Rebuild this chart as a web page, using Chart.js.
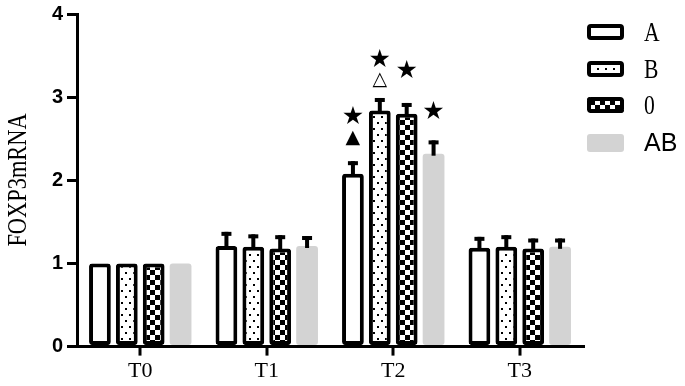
<!DOCTYPE html>
<html><head><meta charset="utf-8">
<script src="https://cdn.jsdelivr.net/npm/chart.js@4/dist/chart.umd.min.js"></script>
<style>html,body{margin:0;padding:0;background:#fff}#wrap{width:685px;height:386px}</style>
</head><body><div id="wrap"><canvas id="c" width="685" height="386"></canvas></div>
<script>
const categories = ['T0', 'T1', 'T2', 'T3'];
const seriesNames = ['A', 'B', '0', 'AB'];
const valuesA  = [1.00, 1.21, 2.08, 1.19];
const valuesB  = [1.00, 1.20, 2.84, 1.20];
const valuesO  = [1.00, 1.18, 2.80, 1.18];
const valuesAB = [1.00, 1.21, 2.32, 1.20];
const errA  = [0, 0.17, 0.15, 0.13];
const errB  = [0, 0.15, 0.15, 0.14];
const errO  = [0, 0.16, 0.13, 0.12];
const errAB = [0, 0.12, 0.16, 0.10];
const yTicks = [0, 1, 2, 3, 4];
// significance marks: [series index, category index, symbol, y value]
const marks = [
  [0, 2, '★', 2.75], [0, 2, '▲', 2.51],
  [1, 2, '★', 3.44], [1, 2, '△', 3.21],
  [2, 2, '★', 3.31],
  [3, 2, '★', 2.81]
];

function dotPattern(){
  const c = document.createElement('canvas'); c.width = 8; c.height = 12;
  const g = c.getContext('2d'); g.fillStyle = '#fff'; g.fillRect(0,0,8,12);
  g.fillStyle = '#000'; g.fillRect(1,2,2,2); g.fillRect(5,8,2,2);
  return g.createPattern(c, 'repeat');
}
function checkPattern(){
  const c = document.createElement('canvas'); c.width = 10; c.height = 10;
  const g = c.getContext('2d'); g.fillStyle = '#fff'; g.fillRect(0,0,10,10);
  g.fillStyle = '#000'; g.fillRect(0,0,5,5); g.fillRect(5,5,5,5);
  return g.createPattern(c, 'repeat');
}
const fills = ['#ffffff', dotPattern(), checkPattern(), '#d3d3d3'];
const allVals = [valuesA, valuesB, valuesO, valuesAB];
const allErr = [errA, errB, errO, errAB];

const datasets = allVals.map((v, i) => ({
  label: seriesNames[i], data: v,
  backgroundColor: fills[i],
  borderColor: '#000',
  borderWidth: i === 3 ? 0 : 4,
  borderSkipped: false,
  borderRadius: 3,
  categoryPercentage: 0.85,
  barPercentage: 0.81
}));

const extras = {
  id: 'extras',
  afterDraw(chart){
    const ctx = chart.ctx, xs = chart.scales.x;
    ctx.save();
    ctx.fillStyle = '#000';
    categories.forEach((c, i) => {
      const px = Math.round(xs.getPixelForTick(i));
      ctx.fillRect(px - 1.5, xs.top, 3, 9);
    });
    ctx.restore();
  },
  afterDatasetsDraw(chart){
    const ctx = chart.ctx, ys = chart.scales.y;
    ctx.save();
    ctx.fillStyle = '#000';
    chart.data.datasets.forEach((ds, di) => {
      const meta = chart.getDatasetMeta(di);
      const errs = allErr[di];
      meta.data.forEach((el, k) => {
        const e = errs[k]; if (!e) return;
        const top = ys.getPixelForValue(ds.data[k] + e);
        ctx.fillRect(el.x - 2, top, 4, el.y - top + 2);
        ctx.fillRect(el.x - 5, top, 10, 4);
      });
    });
    ctx.textAlign = 'center'; ctx.textBaseline = 'middle';
    marks.forEach(m => {
      const el = chart.getDatasetMeta(m[0]).data[m[1]];
      const y = ys.getPixelForValue(m[3]);
      ctx.font = (m[2] === '★' ? '25px' : '19px') + ' "DejaVu Sans"';
      ctx.fillText(m[2], el.x, y);
    });
    // y title (condensed serif)
    ctx.save();
    ctx.translate(19, 180); ctx.rotate(-Math.PI/2); ctx.scale(0.8, 1);
    ctx.font = '28px "Liberation Serif"'; ctx.textAlign = 'center'; ctx.textBaseline = 'middle';
    ctx.fillText('FOXP3mRNA', 0, 0);
    ctx.restore();
    // legend
    const lx = 587, lw = 37, lh = 16, ys0 = [24, 61, 97, 134];
    chart.data.datasets.forEach((ds, i) => {
      const y = ys0[i];
      ctx.beginPath();
      ctx.roundRect(lx, y, lw, i === 3 ? 18 : lh, 3);
      ctx.fillStyle = ds.backgroundColor; ctx.fill();
      if (ds.borderWidth) {
        ctx.beginPath(); ctx.roundRect(lx + 2, y + 2, lw - 4, lh - 4, 2);
        ctx.lineWidth = 4; ctx.strokeStyle = '#000'; ctx.stroke();
      }
      ctx.fillStyle = '#000'; ctx.textAlign = 'left'; ctx.textBaseline = 'middle';
      if (i === 3) {
        ctx.font = '25px "Liberation Sans"'; ctx.fillText(ds.label, 644, y + 10);
      } else {
        ctx.save(); ctx.translate(644, y + 10); ctx.scale(0.8, 1);
        ctx.font = '27px "Liberation Serif"'; ctx.fillText(ds.label, 0, 0);
        ctx.restore();
      }
    });
    ctx.restore();
  }
};

new Chart(document.getElementById('c'), {
  type: 'bar',
  data: { labels: categories, datasets },
  options: {
    responsive: false, animation: false, devicePixelRatio: 1,
    layout: { padding: { top: 14, right: 102, left: 0, bottom: 0 } },
    plugins: { legend: { display: false }, tooltip: { enabled: false } },
    scales: {
      x: {
        grid: { drawOnChartArea: false, offset: false, color: 'rgba(0,0,0,0)', lineWidth: 3, tickLength: 9 },
        border: { color: '#000', width: 3 },
        ticks: { color: '#000', font: { family: 'Liberation Serif', size: 22, lineHeight: 1.2 }, padding: 2 }
      },
      y: {
        min: 0, max: 4,
        afterBuildTicks(s){ s.ticks = yTicks.map(v => ({ value: v })); },
        grid: { drawOnChartArea: false, color: '#000', lineWidth: 3, tickLength: 10 },
        border: { color: '#000', width: 3 },
        ticks: { color: '#000', font: { family: 'Liberation Sans', size: 20, weight: 'bold', lineHeight: 0.8 }, padding: 4 },
        afterFit(s){ s.width = 77; }
      }
    }
  },
  plugins: [extras]
});
</script></body></html>
